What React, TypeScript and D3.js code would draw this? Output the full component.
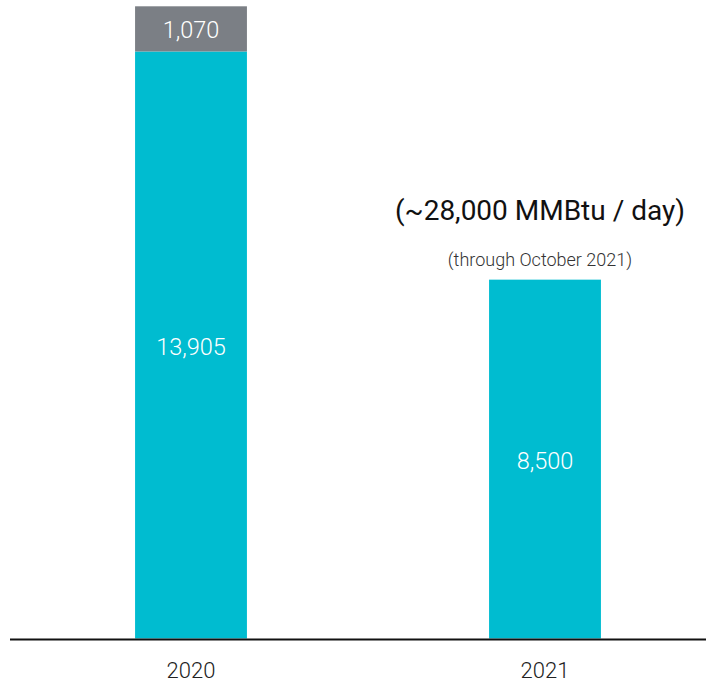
import React from "react";
import * as d3 from "d3";

const years = ["2020", "2021"];
const baseValues = [13905, 8500];
const extraValues = [1070, 0];
const baseLabels = ["13,905", "8,500"];
const extraLabels = ["1,070", ""];
const annotationTitle = "(~28,000 MMBtu / day)";
const annotationSub = "(through October 2021)";

const W = 706;
const H = 684;
const baseline = 638.5;

export default function App() {
  const x = d3
    .scaleBand<string>()
    .domain(years)
    .range([14, 722])
    .paddingInner(0.684)
    .paddingOuter(0.342);
  const y = d3.scaleLinear().domain([0, 14975]).range([baseline, 6.3]);
  const bw = x.bandwidth();
  const teal = "#00BCD0";
  const gray = "#7B7F85";
  const font = "Roboto, 'Noto Sans', sans-serif";
  const c2021 = (x("2021") as number) + bw / 2;

  return (
    <svg
      width={W}
      height={H}
      style={{ position: "absolute", left: 0, top: 0, background: "#fff" }}
      fontFamily={font}
    >
      {years.map((yr, i) => {
        const x0 = x(yr) as number;
        const cx = x0 + bw / 2;
        const yBase = y(baseValues[i]);
        const yTop = y(baseValues[i] + extraValues[i]);
        return (
          <g key={yr}>
            <rect x={x0} y={yBase} width={bw} height={baseline - yBase} fill={teal} />
            {extraValues[i] > 0 && (
              <rect x={x0} y={yTop} width={bw} height={yBase - yTop} fill={gray} />
            )}
            <text
              x={cx}
              y={(yBase + baseline) / 2 + 2}
              textAnchor="middle"
              dominantBaseline="central"
              fill="#fff"
              fontSize={23.5}
              fontWeight={300}
            >
              {baseLabels[i]}
            </text>
            {extraValues[i] > 0 && (
              <text
                x={cx}
                y={(yTop + yBase) / 2 + 1}
                textAnchor="middle"
                dominantBaseline="central"
                fill="#fff"
                fontSize={23.5}
                fontWeight={300}
              >
                {extraLabels[i]}
              </text>
            )}
            <text
              x={cx}
              y={678}
              textAnchor="middle"
              fill="#222"
              fontSize={22}
              fontWeight={300}
            >
              {yr}
            </text>
          </g>
        );
      })}
      <line x1={10} x2={706} y1={639.5} y2={639.5} stroke="#111" strokeWidth={2} />
      <text x={c2021 - 5} y={220} textAnchor="middle" fill="#111" fontSize={28} fontWeight={400}>
        {annotationTitle}
      </text>
      <text x={c2021 - 5} y={266} textAnchor="middle" fill="#333" fontSize={18} fontWeight={300}>
        {annotationSub}
      </text>
    </svg>
  );
}
